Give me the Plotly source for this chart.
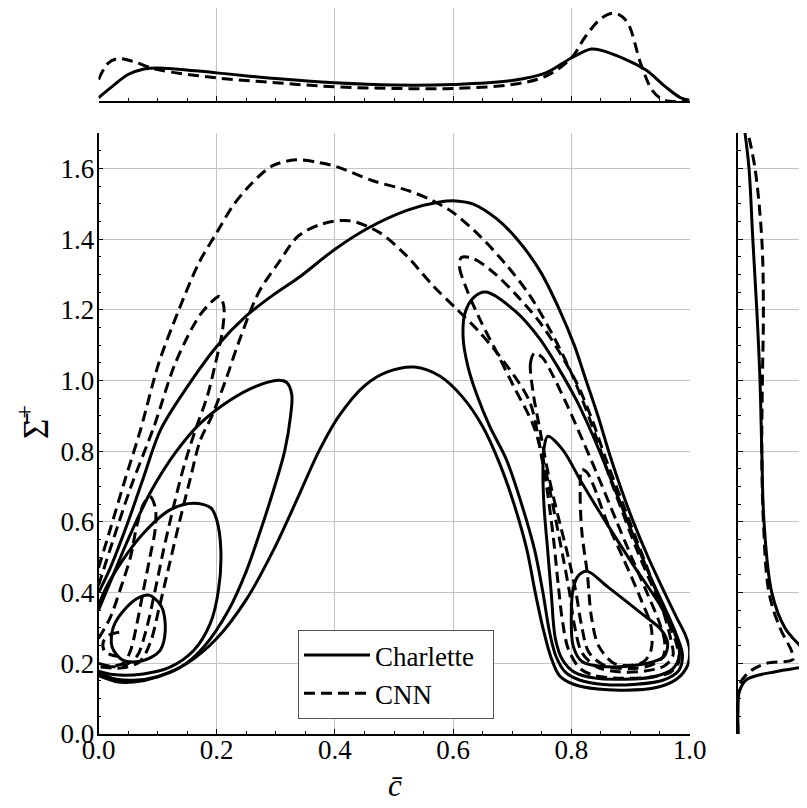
import plotly.graph_objects as go

# ---------------- data: contour paths (c, Sigma+) ----------------
# Charlette (solid)
charlette_outer = [(0.0,0.40),(0.02,0.47),(0.05,0.60),(0.075,0.72),(0.105,0.86),(0.147,0.974),(0.2,1.096),
    (0.249,1.181),(0.294,1.24),(0.342,1.295),(0.399,1.37),(0.455,1.43),(0.523,1.482),(0.577,1.505),(0.605,1.508),
    (0.634,1.499),(0.674,1.457),(0.708,1.40),(0.747,1.31),(0.78,1.20),(0.805,1.10),(0.825,1.0),(0.845,0.9),
    (0.865,0.79),(0.885,0.69),(0.905,0.60),(0.93,0.50),(0.955,0.41),(0.978,0.33),(0.993,0.28),(1.0,0.24),
    (0.997,0.195),(0.978,0.155),(0.94,0.13),(0.89,0.124),(0.845,0.127),(0.805,0.14),(0.78,0.165),(0.765,0.22),
    (0.752,0.30),(0.739,0.40),(0.725,0.52),(0.705,0.64),(0.68,0.76),(0.65,0.87),(0.615,0.955),(0.578,1.012),
    (0.535,1.038),(0.49,1.025),(0.45,0.985),(0.407,0.90),(0.373,0.80),(0.335,0.66),(0.296,0.52),(0.25,0.38),
    (0.2,0.27),(0.15,0.20),(0.1,0.162),(0.06,0.147),(0.03,0.148),(0.0,0.165)]
charlette_left_b = [(0.0,0.35),(0.02,0.43),(0.05,0.55),(0.09,0.69),(0.132,0.80),(0.17,0.875),(0.21,0.93),
    (0.255,0.975),(0.30,1.0),(0.318,0.995),(0.327,0.96),(0.325,0.90),(0.315,0.80),(0.298,0.70),(0.275,0.58),
    (0.25,0.46),(0.22,0.35),(0.18,0.25),(0.14,0.19),(0.1,0.162),(0.06,0.152),(0.03,0.155),(0.0,0.172)]
charlette_left_c = [(0.0,0.36),(0.008,0.397),(0.037,0.482),(0.076,0.568),(0.121,0.634),(0.161,0.653),
    (0.19,0.64),(0.2,0.606),(0.207,0.52),(0.203,0.407),(0.189,0.312),(0.161,0.236),(0.121,0.189),
    (0.076,0.17),(0.025,0.168),(0.0,0.178)]
charlette_left_d = [(0.087,0.392),(0.107,0.359),(0.113,0.293),(0.104,0.236),(0.076,0.208),(0.042,0.208),
    (0.023,0.246),(0.025,0.302),(0.048,0.359),(0.07,0.387),(0.087,0.392)]
charlette_right_b = [(0.655,1.25),(0.708,1.192),(0.747,1.117),(0.78,1.03),(0.81,0.94),(0.835,0.85),(0.86,0.75),
    (0.885,0.645),(0.91,0.54),(0.935,0.44),(0.96,0.35),(0.978,0.28),(0.988,0.225),(0.982,0.18),(0.955,0.152),
    (0.905,0.14),(0.855,0.14),(0.815,0.152),(0.79,0.175),(0.774,0.22),(0.763,0.29),(0.752,0.40),(0.738,0.52),
    (0.715,0.655),(0.69,0.777),(0.662,0.87),(0.64,0.96),(0.625,1.04),(0.617,1.12),(0.62,1.19),(0.635,1.235),(0.655,1.25)]
charlette_right_c = [(0.760,0.842),(0.785,0.805),(0.818,0.71),(0.862,0.59),(0.906,0.475),(0.95,0.365),
    (0.975,0.285),(0.983,0.225),(0.972,0.185),(0.94,0.162),(0.89,0.155),(0.84,0.158),(0.805,0.175),(0.785,0.21),
    (0.773,0.27),(0.766,0.40),(0.76,0.52),(0.754,0.64),(0.752,0.74),(0.754,0.81),(0.760,0.842)]
charlette_right_d = [(0.827,0.46),(0.861,0.417),(0.918,0.342),(0.952,0.295),(0.963,0.257),(0.957,0.219),
    (0.929,0.2),(0.861,0.19),(0.818,0.205),(0.803,0.25),(0.8,0.33),(0.803,0.41),(0.812,0.448),(0.827,0.46)]

# CNN (dashed)
cnn_outer = [(0.0,0.47),(0.02,0.58),(0.045,0.72),(0.071,0.86),(0.102,1.049),(0.136,1.2),(0.17,1.333),
    (0.2,1.418),(0.227,1.493),(0.255,1.55),(0.294,1.607),(0.334,1.624),(0.37,1.617),(0.402,1.605),(0.464,1.565),
    (0.526,1.536),(0.566,1.508),(0.6,1.475),(0.645,1.409),(0.691,1.325),(0.73,1.24),(0.765,1.14),(0.795,1.04),
    (0.82,0.94),(0.842,0.84),(0.862,0.74),(0.885,0.635),(0.91,0.525),(0.938,0.415),(0.962,0.325),(0.978,0.255),
    (0.982,0.205),(0.968,0.175),(0.93,0.16),(0.88,0.158),(0.84,0.165),(0.815,0.185),(0.795,0.24),(0.785,0.32),
    (0.778,0.42),(0.77,0.55),(0.76,0.68),(0.748,0.80),(0.73,0.938),(0.691,1.042),(0.645,1.136),(0.606,1.202),
    (0.566,1.268),(0.521,1.353),(0.475,1.419),(0.424,1.452),(0.379,1.443),(0.339,1.41),(0.305,1.334),
    (0.271,1.249),(0.237,1.107),(0.215,1.0),(0.192,0.9),(0.172,0.83),(0.155,0.72),(0.137,0.60),(0.12,0.48),
    (0.103,0.36),(0.088,0.26),(0.07,0.205),(0.04,0.187),(0.0,0.19)]
cnn_left_b = [(0.0,0.42),(0.025,0.55),(0.055,0.70),(0.094,0.87),(0.13,1.049),(0.17,1.181),(0.195,1.228),
    (0.205,1.238),(0.212,1.21),(0.21,1.144),(0.198,1.049),(0.184,0.955),(0.164,0.86),(0.145,0.76),(0.128,0.65),
    (0.11,0.52),(0.095,0.40),(0.08,0.29),(0.065,0.22),(0.045,0.195),(0.02,0.19),(0.0,0.195)]
cnn_left_c = [(0.0,0.27),(0.02,0.33),(0.037,0.41),(0.054,0.50),(0.065,0.59),(0.076,0.65),(0.087,0.672),
    (0.096,0.64),(0.096,0.58),(0.087,0.50),(0.076,0.407),(0.065,0.312),(0.054,0.235),(0.042,0.2),(0.02,0.192),(0.0,0.2)]
cnn_left_d = [(0.035,0.288),(0.018,0.28),(0.008,0.26),(0.01,0.235),(0.025,0.222),(0.045,0.22)]
cnn_right_b = [(0.614,1.348),(0.611,1.32),(0.623,1.258),(0.645,1.174),(0.674,1.079),(0.702,0.985),(0.736,0.872),
    (0.756,0.75),(0.772,0.62),(0.786,0.50),(0.797,0.40),(0.805,0.31),(0.818,0.23),(0.843,0.19),(0.88,0.176),
    (0.925,0.178),(0.958,0.193),(0.972,0.222),(0.968,0.27),(0.955,0.35),(0.933,0.45),(0.908,0.56),(0.883,0.67),
    (0.858,0.78),(0.835,0.89),(0.81,0.99),(0.78,1.08),(0.747,1.164),(0.708,1.24),(0.668,1.306),(0.634,1.345),(0.614,1.348)]
cnn_right_c = [(0.738,1.078),(0.731,1.05),(0.735,0.97),(0.747,0.86),(0.763,0.72),(0.78,0.60),(0.795,0.50),
    (0.808,0.40),(0.817,0.31),(0.83,0.23),(0.858,0.193),(0.9,0.185),(0.935,0.195),(0.955,0.218),(0.958,0.26),
    (0.948,0.32),(0.928,0.40),(0.902,0.50),(0.877,0.60),(0.85,0.71),(0.822,0.82),(0.793,0.93),(0.767,1.02),
    (0.751,1.065),(0.738,1.078)]
cnn_right_d = [(0.818,0.748),(0.815,0.682),(0.818,0.569),(0.827,0.455),(0.834,0.332),(0.846,0.25),(0.872,0.2),
    (0.9,0.194),(0.923,0.205),(0.935,0.238),(0.935,0.304),(0.918,0.38),(0.889,0.493),(0.861,0.597),(0.838,0.701),
    (0.827,0.739),(0.818,0.748)]

charlette_contours = [charlette_outer, charlette_left_b, charlette_left_c, charlette_left_d,
                      charlette_right_b, charlette_right_c, charlette_right_d]
cnn_contours = [cnn_outer, cnn_left_b, cnn_left_c, cnn_left_d, cnn_right_b, cnn_right_c, cnn_right_d]

# marginal density of c (top panel)
c_grid_charlette = [0.0,0.024,0.05,0.077,0.10,0.2,0.3,0.4,0.5,0.6,0.7,0.757,0.8,0.834,0.857,0.925,0.958,0.985,1.0]
dens_c_charlette = [0.034,0.155,0.276,0.334,0.345,0.293,0.234,0.19,0.166,0.172,0.214,0.293,0.448,0.541,0.517,0.328,0.155,0.034,0.007]
c_grid_cnn = [0.0,0.017,0.034,0.057,0.10,0.2,0.3,0.4,0.5,0.6,0.7,0.757,0.8,0.824,0.851,0.874,0.894,0.918,0.938,0.958,1.0]
dens_c_cnn = [0.224,0.397,0.441,0.414,0.328,0.241,0.19,0.148,0.131,0.131,0.172,0.259,0.448,0.672,0.862,0.914,0.828,0.379,0.103,0.007,0.0]

# marginal density of Sigma+ (right panel)
s_grid_charlette = [0.0,0.075,0.12,0.154,0.177,0.194,0.212,0.23,0.25,0.3,0.4,0.6,0.8,1.0,1.2,1.4,1.6,1.7]
dens_s_charlette = [0.0,0.0,0.07,0.43,1.93,3.6,4.2,3.44,3.1,2.35,1.69,1.30,1.19,1.10,0.94,0.74,0.55,0.35]
s_grid_cnn = [0.0,0.11,0.143,0.177,0.2,0.211,0.233,0.3,0.4,0.6,0.8,1.0,1.2,1.4,1.6,1.7]
dens_s_cnn = [0.0,0.0,0.1,0.6,1.43,2.75,2.69,2.1,1.55,1.27,1.19,1.22,1.27,1.19,0.85,0.5]

x_ticks = [0.0, 0.2, 0.4, 0.6, 0.8, 1.0]
y_ticks = [0.0, 0.2, 0.4, 0.6, 0.8, 1.0, 1.2, 1.4, 1.6]
x_title = "<i>c\u0304</i>"
y_title = "\u03A3\u0304<sup>+</sup>"

# ---------------- figure ----------------
FONT = "Liberation Serif, serif"
GRID = "#c4c4c4"
LW = 3.0
DASH = "11px,6px"

fig = go.Figure()

for i, path in enumerate(charlette_contours):
    fig.add_trace(go.Scatter(x=[p[0] for p in path], y=[p[1] for p in path], mode="lines",
                             line=dict(color="black", width=LW, shape="spline", smoothing=0.9),
                             name="Charlette\u00a0\u00a0", legendgroup="ch", showlegend=(i == 0),
                             xaxis="x", yaxis="y", hoverinfo="skip"))
for i, path in enumerate(cnn_contours):
    fig.add_trace(go.Scatter(x=[p[0] for p in path], y=[p[1] for p in path], mode="lines",
                             line=dict(color="black", width=LW, dash=DASH, shape="spline", smoothing=0.9),
                             name="CNN", legendgroup="cnn", showlegend=(i == 0),
                             xaxis="x", yaxis="y", hoverinfo="skip"))

# top marginal
fig.add_trace(go.Scatter(x=c_grid_charlette, y=dens_c_charlette, mode="lines",
                         line=dict(color="black", width=LW, shape="spline"), showlegend=False,
                         xaxis="x2", yaxis="y2", hoverinfo="skip"))
fig.add_trace(go.Scatter(x=c_grid_cnn, y=dens_c_cnn, mode="lines",
                         line=dict(color="black", width=LW, dash=DASH, shape="spline"), showlegend=False,
                         xaxis="x2", yaxis="y2", hoverinfo="skip"))
# right marginal
fig.add_trace(go.Scatter(x=dens_s_charlette, y=s_grid_charlette, mode="lines",
                         line=dict(color="black", width=LW, shape="spline"), showlegend=False,
                         xaxis="x3", yaxis="y3", hoverinfo="skip"))
fig.add_trace(go.Scatter(x=dens_s_cnn, y=s_grid_cnn, mode="lines",
                         line=dict(color="black", width=LW, dash=DASH, shape="spline"), showlegend=False,
                         xaxis="x3", yaxis="y3", hoverinfo="skip"))

# the page body has an 8px margin, so the figure starts at (8, 8) in the window
OFF = 8
W, H = 807 - OFF, 808 - OFF
def px_x(x):
    return (x - OFF) / W
def px_y(y):
    return (H - (y - OFF)) / H

main_x = [px_x(98.5), px_x(689.5)]
main_y = [px_y(734), px_y(133)]
top_y = [px_y(101), 1.0]          # panel from screen y=101 up to y=8
top_range = (101 - 8) / 96.0       # density units: 1.0 corresponds to screen y=5
right_x = [px_x(738), 1.0]

minor_common = dict(ticks="inside", ticklen=3, tickwidth=1, tickcolor="black", showgrid=False)

fig.update_layout(
    width=W, height=H,
    margin=dict(l=0, r=0, t=0, b=0),
    paper_bgcolor="white", plot_bgcolor="white",
    font=dict(family=FONT, size=27, color="black"),
    showlegend=True,
    legend=dict(x=px_x(298), y=px_y(630), xanchor="left", yanchor="top",
                bgcolor="white", bordercolor="#555555", borderwidth=1,
                font=dict(family=FONT, size=27), itemwidth=66, tracegroupgap=0),
    annotations=[
        dict(text=x_title, x=px_x(395), y=px_y(785), xref="paper", yref="paper",
             xanchor="center", yanchor="middle", showarrow=False, font=dict(family=FONT, size=31)),
        dict(text=y_title, x=px_x(33), y=px_y(422), xref="paper", yref="paper", textangle=-90,
             xanchor="center", yanchor="middle", showarrow=False, font=dict(family=FONT, size=35)),
    ],
    xaxis=dict(domain=main_x, range=[0, 1], tickvals=x_ticks, ticktext=[f"{v:.1f}" for v in x_ticks],
               showline=True, linecolor="black", linewidth=1.5, mirror=False,
               ticks="inside", ticklen=5, tickwidth=1, tickcolor="black",
               showgrid=True, gridcolor=GRID, gridwidth=1, zeroline=False,
               minor=dict(dtick=0.05, **minor_common),
               tickfont=dict(family=FONT, size=27), ticklabelstandoff=-9,
               automargin=False, anchor="y"),
    yaxis=dict(domain=main_y, range=[0, 1.7], tickvals=y_ticks, ticktext=[f"{v:.1f}" for v in y_ticks],
               showline=True, linecolor="black", linewidth=1.5, mirror=False,
               ticks="inside", ticklen=5, tickwidth=1, tickcolor="black",
               showgrid=True, gridcolor=GRID, gridwidth=1, zeroline=False,
               minor=dict(dtick=0.05, **minor_common),
               tickfont=dict(family=FONT, size=27), ticklabelstandoff=-3,
               automargin=False, anchor="x"),
    xaxis2=dict(domain=main_x, range=[0, 1], tickvals=x_ticks, showticklabels=False,
                showline=True, linecolor="black", linewidth=1.5,
                ticks="inside", ticklen=5, tickwidth=1, tickcolor="black",
                showgrid=True, gridcolor=GRID, gridwidth=1, zeroline=False,
                minor=dict(dtick=0.05, **minor_common), anchor="y2", automargin=False),
    yaxis2=dict(domain=top_y, range=[0, top_range], showticklabels=False, showline=False, ticks="",
                showgrid=False, zeroline=False, anchor="x2", automargin=False),
    xaxis3=dict(domain=right_x, range=[0, 3.45], showticklabels=False, showline=False, ticks="",
                showgrid=False, zeroline=False, anchor="y3", automargin=False),
    yaxis3=dict(domain=main_y, range=[0, 1.7], tickvals=y_ticks, showticklabels=False,
                showline=True, linecolor="black", linewidth=1.5,
                ticks="inside", ticklen=5, tickwidth=1, tickcolor="black",
                showgrid=True, gridcolor=GRID, gridwidth=1, zeroline=False,
                minor=dict(dtick=0.05, **minor_common), anchor="x3", automargin=False),
)

fig.write_html("out.html")
